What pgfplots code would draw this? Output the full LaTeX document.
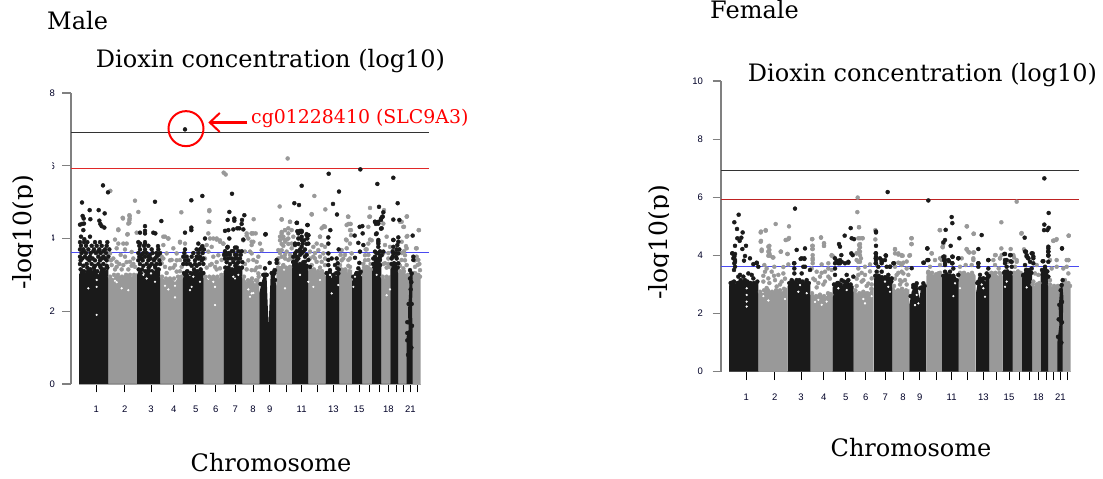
\documentclass[border=0pt]{standalone}
\usepackage{pgfplots}
\pgfplotsset{compat=1.18}
\usepackage{fontspec}
\setmainfont{Liberation Sans}
\newfontfamily\ser{DejaVu Serif}
\usetikzlibrary{arrows.meta}
\definecolor{blk}{HTML}{1A1A1A}
\definecolor{gry}{HTML}{999999}
\definecolor{spine}{HTML}{808080}
\definecolor{blueL}{HTML}{4A4AF0}
\definecolor{redL}{HTML}{E02828}
\pgfplotsset{
  man/.style={scale only axis, clip=false, xmin=213, xmax=1288, ymin=0,
    axis x line*=bottom, axis y line*=left,
    x axis line style={draw=none}, y axis line style={spine, line width=1.1pt, -},
    xtick={289,374,453,521,587,647,706,759,809,859,905,953,1000,1039,1077,1107,1137,1165,1188,1210,1231,1252},
    xticklabels={1,2,3,4,5,6,7,8,9,,11,,13,,15,,,18,,,21,},
    xtick style={draw=black, line width=0.6pt}, ytick style={draw=spine, line width=1.1pt},
    tick align=outside, major tick length=8.5pt,
    tick label style={font=\fontsize{9.5}{11}\selectfont, text=black!85!blue},
    xticklabel shift=10pt},
  bp/.style={only marks, mark=*, mark size=2pt, color=blk},
  gp/.style={only marks, mark=*, mark size=2pt, color=gry},
  hole/.style={only marks, mark=*, mark size=0.9pt, color=white},
}
\begin{document}
\begin{tikzpicture}[x=1pt,y=1pt]
\path (0,0) rectangle (1103,479);
\begin{axis}[man, at={(71pt,95pt)}, anchor=south west, width=358.33pt, height=291pt, ymax=8,
  ytick={0,2,4,6,8}, yticklabels={0,2,4,6,8}, yticklabel shift=4pt]
% grey columns
\addplot[fill=gry, draw=none] coordinates {(325,0)(325,3.0)(340,2.9)(352,3.05)(365,2.9)(380,3.05)(395,2.95)(411,3.05)(411,0)
(480,0)(480,3.0)(495,2.85)(510,2.95)(525,2.8)(540,3.0)(548,2.9)(548,0)
(611,0)(611,3.0)(625,2.85)(640,3.0)(655,2.9)(671,3.05)(671,0)
(727,0)(727,3.0)(740,2.8)(755,2.95)(765,2.75)(778,3.0)(778,0)
(829,0)(829,3.15)(840,3.25)(852,3.1)(865,3.25)(876,3.15)(876,0)
(925,0)(925,3.1)(940,3.2)(955,3.05)(968,3.15)(977,3.0)(977,0)
(1018,0)(1018,3.1)(1030,3.2)(1045,3.05)(1056,3.15)(1056,0)
(1086,0)(1086,3.15)(1100,3.25)(1116,3.1)(1116,0)
(1144,0)(1144,3.0)(1155,2.9)(1171,3.0)(1171,0)
(1195,0)(1195,3.05)(1208,3.15)(1220,3.0)(1240,3.0)(1240,0)
(1238,0)(1238,2.95)(1250,3.1)(1262,2.9)(1262,0)} \closedcycle;
\addplot[draw=spine!70, line width=0.8pt] coordinates {(237,0)(1262,0)};
% grey points
\addplot[gp] coordinates {(863,6.20)(671,5.81)(677,5.76)(331,5.31)(943,5.17)(405,5.04)(839,4.88)(976,4.80)(415,4.73)(544,4.72)(628,4.78)(935,4.66)(1110,4.84)(1108,4.60)(1044,4.60)(389,4.62)(389,4.55)(369,4.55)(388,4.43)(628,4.46)(761,4.53)(1221,4.61)(1200,4.46)(1210,4.32)(1257,4.23)(845,4.52)(870,4.46)(355,4.23)(382,4.11)(410,4.16)(540,3.89)(490,4.05)(505,4.0)(640,4.0)(650,3.97)(660,3.91)(670,3.86)(740,4.08)(755,4.14)(767,4.14)(845,4.18)(855,4.23)(865,4.14)(840,4.05)(850,4.0)(860,3.97)(960,4.05)(970,4.32)(975,4.32)(1045,4.40)(1052,4.40)(1050,4.23)(1040,3.95)(1050,3.86)(1110,3.97)(1220,4.05)(1250,3.73)(1218,3.79)
(368,4.57)(388,4.64)(388,4.5)(385,4.41)(355,4.25)(383,4.12)(345,3.97)(355,3.86)(370,3.86)(380,3.86)(350,3.73)(375,3.70)(330,3.59)(350,3.36)(375,3.50)(390,3.36)(335,3.27)(350,3.22)(370,3.27)(405,3.22)(395,3.63)(340,3.45)(400,3.45)(362,3.55)(345,3.15)(385,3.15)
(495,4.05)(505,4.0)(490,3.82)(540,3.91)(555,3.86)(520,3.73)(530,3.59)(500,3.59)(485,3.50)(515,3.41)(540,3.41)(495,3.22)(525,3.27)(510,3.18)(545,3.22)(485,3.32)(530,3.09)(500,3.05)
(625,4.14)(630,4.0)(650,4.0)(660,3.95)(670,3.86)(620,3.82)(635,3.77)(625,3.64)(640,3.50)(655,3.54)(615,3.45)(665,3.41)(630,3.27)(645,3.22)(660,3.18)(625,4.46)(628,4.75)
(740,4.14)(755,4.14)(730,3.95)(745,4.0)(755,3.82)(735,3.64)(750,3.64)(760,4.14)(755,3.91)(760,3.91)(780,3.86)(785,3.68)(755,3.59)(770,3.36)(760,3.41)(780,3.22)(755,3.13)(765,3.13)(775,3.04)
(845,4.53)(870,4.46)(845,4.14)(855,4.23)(865,4.28)(875,4.23)(850,4.05)(840,3.95)(865,4.0)(880,4.05)(855,3.91)(875,3.86)(835,3.68)(845,3.68)(860,3.64)(875,3.73)(845,3.5)(865,3.41)(850,3.27)(835,3.32)(870,3.22)(840,3.13)
(935,4.67)(972,4.34)(965,4.28)(960,4.05)(950,3.86)(965,3.82)(975,3.77)(940,3.77)(930,3.64)(955,3.68)(970,3.59)(940,3.5)(950,3.36)(965,3.36)(935,3.27)(975,3.27)
(1045,4.6)(1040,4.37)(1050,4.40)(1053,4.23)(1038,3.97)(1053,4.09)(1025,3.68)(1040,3.73)(1055,3.59)(1030,3.45)(1045,3.41)(1020,3.27)(1050,3.22)(1035,3.13)
(1110,4.6)(1105,4.32)(1097,3.70)(1095,3.54)(1105,3.41)(1100,3.22)(1105,3.86)(1115,3.95)(1090,3.3)
(1160,4.05)(1155,3.82)(1170,3.77)(1150,3.59)(1165,3.45)(1155,3.32)(1168,3.22)(1150,4.41)(1152,4.78)
(1220,4.6)(1205,4.46)(1212,4.32)(1222,4.07)(1205,3.91)(1220,3.73)(1215,3.54)(1205,3.41)(1220,3.27)(1210,3.18)
(1256,4.23)(1248,3.73)(1255,3.41)(1245,3.22)(1260,3.13)(1253,3.27)
(330,2.95)(342,3)(354,3)(366,2.95)(378,3)(390,3)(402,3)(486,2.95)(498,2.9)(510,2.9)(522,2.9)(534,2.95)(544,2.95)(616,2.95)(628,2.95)(640,2.95)(652,2.95)(664,3)(732,2.95)(744,2.85)(756,2.9)(768,2.85)(776,2.95)(834,3.2)(846,3.2)(858,3.2)(870,3.2)(930,3.15)(942,3.15)(954,3.1)(966,3.1)(1024,3.15)(1036,3.15)(1048,3.1)(1092,3.2)(1104,3.2)(1112,3.15)(1148,2.95)(1160,2.95)(1200,3.1)(1212,3.1)(1224,3.0)(1243,3.05)(1255,3)(1260,2.95)
(835,3.45)(855,3.45)(870,3.45)(840,3.6)(855,3.55)(870,3.55)(880,3.45)(850,3.8)(865,3.85)(845,3.85)(930,3.45)(945,3.45)(960,3.5)(975,3.45)(945,3.6)(960,3.2)(1025,3.4)(1035,3.55)(1050,3.45)(1022,3.55)(1045,3.25)(1095,3.4)(1105,3.55)(1112,3.3)(1100,3.7)(1150,3.3)(1160,3.2)(1165,3.6)(1165,3.3)(1200,3.25)(1215,3.4)(1212,3.65)(1205,3.6)(1245,3.4)(1258,3.3)(1250,3.5)(333,3.4)(358,3.3)(380,3.35)(395,3.25)(365,3.15)(400,3.3)(490,3.45)(510,3.4)(530,3.4)(520,3.2)(540,3.1)(620,3.2)(650,3.35)(650,3.15)(635,3.3)(735,3.3)(745,3.4)(770,3.2)(740,3.15)(775,3.5)};
% black columns
\addplot[fill=blk, draw=none] coordinates {(237,0)(237,3.0)(245,3.2)(255,3.05)(265,3.25)(275,3.1)(285,3.2)(295,3.0)(305,3.25)(315,3.1)(325,3.2)(325,0)
(411,0)(411,3.0)(420,3.2)(432,3.0)(445,3.25)(458,3.05)(470,3.2)(480,3.1)(480,0)
(548,0)(548,3.0)(558,3.15)(570,2.95)(582,3.2)(595,3.05)(605,3.2)(611,3.0)(611,0)
(671,0)(671,3.1)(683,3.25)(695,3.1)(708,3.3)(718,3.15)(727,3.25)(727,0)
(778,0)(778,2.5)(785,2.8)(795,3.1)(800,2.9)(803,2.2)(806,1.6)(809,2.3)(812,3.0)(820,3.2)(825,2.9)(829,2.7)(829,0)
(876,0)(876,3.3)(888,3.45)(898,3.25)(910,3.4)(925,3.2)(925,0)
(977,0)(977,2.95)(985,3.15)(995,2.9)(1003,3.1)(1008,2.95)(1018,3.2)(1018,0)
(1056,0)(1056,2.8)(1063,3.05)(1075,3.1)(1086,2.95)(1086,0)
(1116,0)(1116,3.2)(1125,3.45)(1135,3.5)(1144,3.3)(1144,0)
(1171,0)(1171,3.2)(1180,3.35)(1190,3.35)(1195,3.1)(1195,0)
(1220,0)(1220,1.3)(1226,1.5)(1224,2.0)(1228,2.6)(1228,3.1)(1238,3.0)(1236,2.0)(1238,1.5)(1238,0)} \closedcycle;
% black points
\addplot[bp] coordinates {(555,7.00)(309,5.46)(324,5.27)(246,4.99)(269,4.78)(296,4.78)(314,4.69)(248,4.62)(251,4.55)(271,4.53)(246,4.40)(240,4.38)(252,4.41)(298,4.49)(301,4.40)(305,4.34)(313,4.30)(250,4.23)(243,4.05)(253,3.98)(270,4.05)
(465,5.01)(484,4.48)(435,4.34)(435,4.21)(420,4.16)(435,4.14)(460,4.16)(466,4.14)(474,3.79)(420,3.86)(435,3.86)
(574,5.05)(607,5.17)(555,4.16)(574,4.30)(574,4.23)(595,3.86)(615,4.00)(607,3.79)
(696,5.23)(688,4.73)(733,4.64)(683,4.51)(703,4.55)(703,4.49)(726,4.51)(685,4.23)(675,4.21)(688,4.00)(712,4.28)(725,4.40)(730,4.25)(730,3.97)(683,3.77)(700,4.25)(718,4.28)
(796,4.11)
(905,5.45)(883,4.97)(897,4.92)(891,4.43)(922,4.37)(900,4.18)(905,4.21)(920,4.09)(925,4.09)(905,4.05)(885,3.86)(892,4.2)(912,3.95)(920,3.85)
(986,5.78)(1017,5.29)(999,4.95)(1011,4.66)(991,4.23)(985,4.03)(985,3.86)(1016,3.7)
(1081,5.90)(1087,4.34)(1079,4.32)(1064,4.08)(1088,4.14)(1075,3.88)(1090,3.82)
(1132,5.50)(1180,5.67)(1193,4.97)(1137,4.87)(1150,4.72)(1147,4.6)(1143,4.51)(1125,4.46)(1135,4.41)(1143,4.27)(1180,4.52)(1198,4.51)(1195,4.03)(1180,3.96)(1238,4.08)(1130,4.14)(1135,3.91)(1192,3.82)
% chr1
(240,3.9)(252,3.9)(262,3.9)(285,3.9)(300,3.9)(322,3.9)(243,3.8)(258,3.8)(275,3.8)(290,3.8)(305,3.8)(320,3.8)(240,3.7)(250,3.7)(265,3.7)(282,3.7)(298,3.7)(315,3.7)(328,3.7)(245,3.6)(258,3.6)(272,3.6)(288,3.6)(302,3.6)(318,3.6)(240,3.5)(255,3.5)(270,3.5)(295,3.5)(310,3.5)(325,3.5)(242,3.4)(268,3.4)(285,3.4)(300,3.4)(320,3.4)(240,3.3)(260,3.3)(275,3.3)(295,3.3)(310,3.3)
(247,3.45)(262,3.45)(278,3.45)(305,3.45)(315,3.45)(250,3.25)(285,3.25)(300,3.25)(320,3.25)(252,3.65)(280,3.65)(295,3.65)(310,3.65)
(242,3.15)(252,3.1)(262,3.2)(272,3.15)(282,3.2)(292,3.1)(302,3.2)(312,3.15)(322,3.2)
% chr3
(415,3.9)(435,3.9)(418,3.8)(432,3.8)(445,3.8)(420,3.7)(435,3.7)(455,3.7)(475,3.7)(415,3.6)(430,3.6)(440,3.6)(458,3.6)(470,3.6)(480,3.6)(418,3.5)(435,3.5)(445,3.5)(470,3.5)(415,3.4)(428,3.4)(445,3.4)(462,3.4)(478,3.4)(420,3.3)(440,3.3)(455,3.3)(470,3.3)(480,3.3)
(425,3.45)(452,3.45)(465,3.45)(425,3.55)(450,3.55)(475,3.55)(430,3.25)(450,3.25)(465,3.25)
(416,3.15)(426,3.15)(436,3.1)(446,3.2)(456,3.1)(466,3.2)(476,3.15)
% chr5
(605,3.75)(555,3.7)(590,3.7)(600,3.7)(612,3.7)(553,3.6)(580,3.6)(595,3.6)(608,3.6)(550,3.5)(575,3.5)(590,3.5)(600,3.5)(555,3.4)(565,3.4)(585,3.4)(605,3.4)(550,3.3)(570,3.3)(585,3.3)(598,3.3)(610,3.3)
(560,3.3)(560,3.5)(595,3.45)(610,3.45)(575,3.25)(590,3.25)
(552,3.05)(562,3.1)(572,3.05)(582,3.15)(592,3.1)(602,3.15)(610,3.05)
% chr7
(682,3.75)(705,3.75)(710,3.75)(675,3.65)(700,3.65)(715,3.65)(725,3.65)(672,3.55)(690,3.55)(710,3.55)(722,3.55)(675,3.45)(695,3.45)(705,3.45)(720,3.45)(680,3.35)(700,3.35)(715,3.35)(727,3.35)
(685,3.45)(685,3.6)(695,3.65)(712,3.45)(705,3.55)(680,3.55)(690,3.3)(710,3.3)
(676,3.2)(686,3.2)(696,3.15)(706,3.25)(716,3.2)(726,3.2)
% chr9
(809,3.33)(830,3.41)(830,3.33)(795,3.18)(825,3.13)(820,3.0)(825,2.86)(797,4.12)(800,3.0)
(782,2.75)(790,3)(798,3)(815,3.05)(823,3.05)
% chr11
(890,4.43)(923,4.37)(900,4.21)(895,4.14)(905,4.18)(920,4.12)(925,4.09)(922,4.0)(895,4.0)(905,3.96)(885,3.82)(908,3.86)(905,3.77)(925,3.86)(910,3.64)(905,3.59)(885,3.59)(880,3.5)(895,3.45)(925,3.41)(915,3.36)(880,3.36)(930,3.22)
(890,3.5)(900,3.55)(915,3.5)(920,3.55)(890,3.65)(900,3.7)(915,3.7)(895,3.85)(900,3.65)
(880,3.35)(890,3.4)(900,3.3)(910,3.35)(920,3.25)
% chr13
(985,3.59)(1010,3.45)(995,3.45)(985,3.41)(1013,3.32)(1005,3.27)(985,3.27)(1012,3.18)(990,3.13)(1015,3.04)
(980,3.05)(990,3.05)(1000,3)(1010,3.05)(1016,3.15)
% chr15
(1080,3.64)(1065,3.47)(1078,3.33)(1075,3.18)(1082,3.09)(1070,3.04)
(1060,2.95)(1070,3.05)(1080,3.05)
% chr17
(1125,4.46)(1135,4.46)(1128,4.4)(1143,4.55)(1148,4.6)(1145,4.28)(1128,4.12)(1135,3.96)(1135,3.86)(1135,3.77)(1150,3.64)(1125,3.64)(1135,3.59)(1145,3.54)(1120,3.45)(1130,3.41)(1140,3.41)(1128,3.27)(1140,3.27)
(1125,3.5)(1140,3.5)(1130,3.6)(1140,3.65)(1122,3.3)(1135,3.3)
(1120,3.3)(1128,3.4)(1138,3.45)
% chr19
(1180,3.96)(1195,3.91)(1180,3.77)(1198,3.70)(1180,3.59)(1195,3.59)(1175,3.45)(1190,3.45)(1182,3.32)(1195,3.32)(1188,3.18)
(1178,3.5)(1188,3.5)(1188,3.6)(1178,3.65)(1190,3.7)
(1175,3.3)(1185,3.3)(1193,3.2)
% chr21
(1240,3.5)(1240,3.41)(1230,3.13)(1235,3.04)
(1222,1.4)(1222,1.2)(1222,1.7)(1226,2.2)(1232,2.6)(1230,2.9)(1234,2.8)(1235,2.2)(1236,1.6)(1224,0.8)(1234,1.0)};
% gaps inside the columns
\addplot[hole] coordinates {(345,2.84)(365,2.63)(385,2.58)(350,2.8)(440,2.9)(465,2.81)(453,3.04)(430,3.0)(570,2.58)(575,2.67)(580,2.95)(600,2.81)(525,2.38)(495,2.7)(505,2.6)(525,2.7)(645,2.17)(645,2.67)(640,2.81)(715,3.0)(700,2.95)(705,2.9)(745,2.6)(760,2.5)(750,2.4)(290,2.86)(290,2.67)(265,2.63)(290,1.9)(755,2.49)(855,2.63)(900,3.0)(925,2.81)(990,3.0)(1015,2.72)(995,2.49)(1060,2.67)(1065,2.95)(1160,2.44)(1170,2.6)(940,2.67)(960,2.86)(1130,3.0)};
\addplot[draw=black!80, line width=0.8pt] coordinates {(213,6.93)(1288,6.93)};
\addplot[draw=redL, line width=0.8pt] coordinates {(213,5.92)(1288,5.92)};
\addplot[draw=blueL, line width=0.9pt] coordinates {(213,3.61)(1288,3.61)};
\draw[red, line width=2pt] (axis cs:558,7.02) circle[radius=17.5pt];
\draw[red, line width=2.2pt, -{Straight Barb[length=10pt,width=19pt,line width=2pt]}] (axis cs:742,7.19) -- (axis cs:625,7.19);
\end{axis}

\begin{axis}[man, at={(721pt,107.3pt)}, anchor=south west, width=358.33pt, height=290.7pt, ymax=10,
  ytick={0,2,4,6,8,10}, yticklabels={0,2,4,6,8,10}, yticklabel shift=6pt]
\addplot[fill=gry, draw=none] coordinates {(325,0)(325,2.8)(340,2.7)(352,2.85)(365,2.7)(380,2.85)(395,2.75)(411,2.9)(411,0)
(480,0)(480,2.75)(495,2.6)(510,2.7)(525,2.55)(540,2.75)(548,2.7)(548,0)
(611,0)(611,2.85)(625,2.65)(640,2.8)(655,2.7)(671,2.9)(671,0)
(727,0)(727,3.0)(740,2.75)(755,2.9)(765,2.75)(778,2.85)(778,0)
(829,0)(829,3.3)(840,3.45)(852,3.25)(865,3.45)(876,3.35)(876,0)
(925,0)(925,3.3)(940,3.45)(955,3.3)(968,3.45)(977,3.3)(977,0)
(1018,0)(1018,3.35)(1030,3.45)(1045,3.3)(1056,3.45)(1056,0)
(1086,0)(1086,3.35)(1100,3.5)(1116,3.35)(1116,0)
(1144,0)(1144,3.0)(1155,2.95)(1171,3.1)(1171,0)
(1195,0)(1195,3.05)(1208,2.9)(1220,3.0)(1240,3.0)(1240,0)
(1238,0)(1238,3.0)(1250,3.1)(1262,2.95)(1262,0)} \closedcycle;
\addplot[draw=spine!70, line width=0.8pt] coordinates {(237,0)(1262,0)};
\addplot[gp] coordinates {(623,5.99)(622,5.49)(627,4.97)(1100,5.85)(1054,5.14)(951,5.00)(971,4.75)(869,4.87)(377,5.08)(417,5.00)(347,4.85)(332,4.79)(676,4.87)(676,4.55)(1114,4.75)(1256,4.68)(1220,4.56)(1210,4.51)(513,4.61)(486,4.56)(488,4.33)(488,4.22)(488,4.01)(488,3.84)(784,4.59)(784,4.39)(407,4.53)(415,4.56)(332,4.47)(358,4.33)(358,4.19)(358,4.07)(335,4.15)(355,3.99)(368,3.93)(522,4.41)(522,4.33)(630,4.59)(638,4.59)(630,4.39)(630,4.28)(630,4.13)(620,4.07)(630,4.01)(620,3.84)(630,3.78)(392,4.13)(412,4.05)(735,4.2)(735,4.07)(755,4.01)(745,4.07)(780,4.01)(745,3.75)(760,3.75)(845,4.07)(878,4.28)(880,4.4)(870,3.9)(875,3.84)(885,3.96)(950,4.2)(955,4.13)(970,4.1)(970,3.84)(1082,4.22)(1075,3.78)(1035,4.01)(1050,3.9)(1055,4.01)(1065,3.78)(1092,3.93)(1100,3.84)(1250,3.84)(1255,3.84)(545,4.01)(550,3.96)
(333,4.82)(347,4.87)(333,4.5)(335,4.2)(355,4.3)(355,4.13)(360,3.99)(370,3.93)(393,4.13)(413,4.05)(408,4.53)(417,4.6)(343,3.67)(373,3.61)(415,3.69)(345,3.44)(365,3.44)(385,3.33)(400,3.38)(355,3.21)(375,3.15)(340,3.1)(395,3.1)(350,2.88)(380,2.93)
(487,4.56)(487,4.33)(487,4.22)(513,4.62)(522,4.42)(522,4.33)(545,3.99)(488,3.9)(488,3.73)(515,3.69)(535,3.73)(500,3.44)(525,3.44)(485,3.55)(545,3.5)(510,3.27)(535,3.27)(495,3.15)(525,3.1)
(627,4.97)(625,4.59)(637,4.59)(627,4.36)(627,4.19)(620,4.07)(633,3.9)(625,3.78)(660,3.69)(645,3.61)(625,3.55)(645,3.33)(625,3.33)(665,3.21)(655,3.03)(635,3.1)
(735,4.22)(745,4.03)(755,3.99)(750,3.73)(735,3.61)(755,3.44)(740,3.33)(750,3.15)(758,3.99)(778,3.99)(755,3.67)(770,3.79)(760,3.38)(775,3.33)(765,3.15)(755,3.1)
(870,4.87)(785,4.59)(785,4.39)(845,4.07)(878,4.3)(840,3.61)(855,3.84)(870,3.67)(835,3.44)(850,3.27)(865,3.38)(840,3.1)
(950,5.0)(971,4.74)(950,4.22)(958,4.1)(972,4.1)(970,3.9)(935,3.9)(947,3.67)(965,3.67)(940,3.38)(955,3.33)(930,3.61)
(1054,4.24)(1037,4.01)(1050,3.9)(1030,3.84)(1035,3.67)(1046,3.55)
(1115,4.77)(1122,4.21)(1090,4.01)(1100,3.78)(1095,3.61)
(1160,3.67)(1155,3.38)(1165,3.33)(1150,3.1)
(1218,4.53)(1210,4.5)(1200,3.84)(1220,3.84)(1220,3.61)(1205,3.55)(1200,3.15)(1205,2.7)
(1256,4.68)(1255,3.84)(1250,3.61)(1240,3.55)(1255,3.38)(1245,3.15)
(330,2.75)(342,2.8)(354,2.8)(366,2.75)(378,2.8)(390,2.8)(402,2.85)(486,2.7)(498,2.6)(510,2.65)(522,2.6)(534,2.7)(544,2.65)(616,2.8)(628,2.7)(640,2.75)(652,2.7)(664,2.85)(732,2.95)(744,2.8)(756,2.85)(768,2.8)(834,3.4)(846,3.4)(858,3.35)(870,3.4)(930,3.4)(942,3.4)(954,3.35)(966,3.4)(1024,3.4)(1036,3.4)(1048,3.4)(1092,3.4)(1104,3.45)(1112,3.4)(1148,3)(1160,3)(1168,3.05)(1200,3)(1212,2.95)(1224,2.95)(1243,3.05)(1255,3.05)(1260,2.95)
(340,3.3)(358,3.05)(372,3.3)(390,3.0)(405,3.2)(350,3.55)(400,3.6)(490,3.2)(505,3.05)(520,3.0)(540,3.2)(515,3.4)(535,3.55)(500,2.9)(620,3.2)(640,3.15)(650,2.95)(665,3.0)(635,3.4)(660,3.45)(620,2.95)(735,3.2)(750,3.0)(770,3.0)(745,3.4)(770,3.55)};
\addplot[fill=blk, draw=none] coordinates {(237,0)(237,2.95)(245,3.15)(258,3.0)(270,3.2)(282,3.05)(295,3.15)(310,3.0)(325,3.15)(325,0)
(413,0)(413,2.95)(425,3.15)(438,3.0)(450,3.2)(465,3.05)(481,3.1)(481,0)
(548,0)(548,2.9)(560,3.1)(575,2.95)(590,3.15)(600,3.0)(611,2.95)(611,0)
(672,0)(672,3.2)(685,3.35)(698,3.2)(710,3.3)(727,3.1)(727,0)
(778,0)(778,2.3)(785,2.75)(795,3.0)(803,2.9)(808,2.5)(812,2.8)(820,3.05)(828,2.9)(828,0)
(876,0)(876,3.25)(888,3.4)(900,3.25)(912,3.35)(926,3.1)(926,0)
(978,0)(978,2.7)(985,3.2)(995,3.25)(1005,3.1)(1018,3.3)(1018,0)
(1058,0)(1058,3.3)(1068,3.5)(1078,3.45)(1088,3.3)(1088,0)
(1116,0)(1116,3.2)(1125,3.5)(1135,3.55)(1146,3.4)(1146,0)
(1172,0)(1172,3.4)(1182,3.6)(1190,3.55)(1195,3.3)(1195,0)
(1222,0)(1222,1.0)(1228,1.6)(1226,2.2)(1230,2.8)(1236,3.1)(1240,2.6)(1238,1.5)(1238,0)} \closedcycle;
\addplot[bp] coordinates {(266,5.40)(253,5.14)(261,4.91)(278,4.79)(274,4.61)(262,4.59)(269,4.50)(277,4.22)(288,4.33)(255,4.33)(247,4.07)(255,4.05)(285,3.98)(300,3.90)(282,3.82)(250,3.9)(255,3.78)
(435,5.61)(440,4.19)(465,4.24)(452,3.88)(463,3.88)(432,3.73)(320,3.75)(310,3.7)
(602,4.94)(584,4.68)(605,4.59)(612,4.56)(567,4.39)(570,4.30)(574,4.01)(604,4.07)(608,4.01)(560,3.82)(575,3.78)(595,3.75)(565,3.73)
(678,4.79)(678,4.82)(678,4.33)(678,4.07)(678,3.96)(678,3.84)(678,3.73)(708,3.99)(705,3.84)(695,3.84)(695,3.73)(732,3.73)(720,3.61)
(713,6.18)(835,5.89)(832,4.24)(822,3.75)(835,3.84)
(905,5.32)(907,5.11)(887,4.88)(885,4.53)(880,4.45)(928,4.59)(995,4.70)(902,4.33)(985,4.22)(907,3.96)(925,3.9)(895,3.84)(882,3.96)(882,3.84)(907,3.73)(885,3.73)(985,3.73)(1015,3.84)
(1063,4.05)(1080,4.01)(1070,3.84)(1085,3.78)(1065,3.73)
(1124,4.61)(1125,4.13)(1130,4.01)(1148,4.07)(1135,3.9)(1150,3.96)(1140,3.78)
(1183,6.65)(1196,5.46)(1183,5.06)(1196,4.95)(1192,4.87)(1182,4.87)(1195,4.24)(1195,4.13)(1195,3.99)(1178,3.80)(1236,4.24)
(247,4.07)(253,3.96)(255,3.84)(253,3.73)(255,3.61)(252,3.5)(270,3.33)(280,3.27)(295,3.38)(305,3.33)(320,3.73)(325,3.61)(310,3.21)(285,3.15)(265,3.27)
(433,3.73)(433,3.55)(433,3.38)(455,3.9)(463,3.9)(460,3.61)(465,3.61)(480,3.5)(455,3.38)(425,3.15)(440,3.15)(470,3.15)(430,3.05)
(555,3.9)(555,3.73)(570,3.84)(570,3.73)(555,3.55)(555,3.33)(585,3.73)(595,3.78)(590,3.33)(610,3.27)(575,3.15)(595,3.15)(565,3.05)
(677,4.07)(677,3.9)(690,3.9)(707,4.0)(677,3.73)(695,3.78)(685,3.61)(710,3.61)(730,3.73)(720,3.61)(680,3.44)(695,3.44)(715,3.33)(725,3.21)(705,3.15)
(785,3.56)(820,3.75)(832,3.84)(832,4.24)(800,3.04)(820,3.04)(790,2.98)(810,2.87)
(880,3.95)(885,3.84)(885,3.67)(908,3.95)(897,3.8)(925,3.9)(907,3.73)(885,3.44)(900,3.44)(910,3.55)(925,3.33)(895,3.27)(915,3.15)
(985,3.73)(985,3.61)(1015,3.84)(1015,3.55)(1010,3.38)(990,3.33)(1000,3.21)(1015,3.27)(985,3.1)
(1065,4.05)(1082,4.01)(1065,3.84)(1082,3.8)(1070,3.61)(1085,3.61)(1065,3.44)(1080,3.38)(1075,3.15)
(1128,4.13)(1130,3.96)(1145,4.07)(1150,3.9)(1135,3.9)(1125,3.67)(1150,3.73)(1130,3.5)(1145,3.55)(1120,3.33)(1140,3.33)
(1195,4.3)(1195,4.13)(1195,4.01)(1180,3.8)(1195,3.78)(1185,3.61)(1190,3.44)(1178,3.33)(1195,3.27)
(1236,4.24)(1238,3.15)(1235,2.98)
(242,3.05)(252,3.1)(262,3.05)(272,3.15)(282,3.1)(292,3.1)(302,3.05)(312,3.05)(322,3.1)(418,3.05)(428,3.1)(438,3.05)(448,3.15)(458,3.1)(468,3.05)(476,3.05)(552,3)(562,3.05)(572,3)(582,3.1)(592,3.1)(602,3)(676,3.3)(686,3.3)(696,3.25)(706,3.25)(716,3.2)(724,3.1)(782,2.6)(790,2.9)(798,2.95)(815,2.9)(824,2.95)(880,3.3)(890,3.35)(900,3.3)(910,3.3)(920,3.15)(982,3.05)(990,3.2)(1000,3.2)(1010,3.2)(1016,3.3)(1062,3.4)(1072,3.45)(1082,3.4)(1120,3.3)(1128,3.5)(1138,3.5)(1144,3.4)(1176,3.5)(1185,3.55)(1192,3.45)(1224,1.2)(1226,1.8)(1228,2.3)(1232,2.8)(1236,2.4)(1236,1.7)(1234,1.0)};
\addplot[hole] coordinates {(290,2.87)(290,2.64)(290,2.41)(290,2.24)(445,2.75)(450,2.98)(470,2.7)(590,2.81)(565,2.87)(715,2.92)(705,3.1)(720,2.75)(340,2.6)(355,2.45)(405,2.5)(495,2.4)(505,2.47)(530,2.41)(515,2.3)(645,2.35)(640,2.5)(665,2.6)(795,2.29)(800,2.64)(805,2.35)(1000,2.87)(1005,2.58)(995,3.0)(1065,2.92)(1070,3.1)(1130,2.9)(915,3.04)(930,2.87)(910,2.6)};
\addplot[draw=black!80, line width=0.8pt] coordinates {(213,6.94)(1288,6.94)};
\addplot[draw=redL!85!black, line width=0.8pt] coordinates {(213,5.93)(1288,5.93)};
\addplot[draw=blueL, line width=0.9pt] coordinates {(213,3.61)(1288,3.61)};
\end{axis}

% texts
\fill[white] (33pt,229pt) rectangle (51.6pt,319pt);
\begin{scope}
\clip (0pt,150pt) rectangle (32.5pt,320pt);
\node[font=\ser\fontsize{25}{27}\selectfont, rotate=90, anchor=base west, inner sep=0pt] at (32pt,189pt) {-log10(p)};
\end{scope}
\begin{scope}
\clip (620pt,150pt) rectangle (668pt,320pt);
\node[font=\ser\fontsize{25}{27}\selectfont, rotate=90, anchor=base west, inner sep=0pt] at (667pt,179pt) {-log10(p)};
\end{scope}
\node[font=\ser\fontsize{24}{26}\selectfont, anchor=west, inner sep=0pt] at (47pt,458pt) {Male};
\node[font=\ser\fontsize{24}{26}\selectfont, anchor=center, inner sep=0pt] at (270.5pt,418pt) {Dioxin concentration (log10)};
\node[font=\ser\fontsize{24}{26}\selectfont, anchor=center, inner sep=0pt] at (271pt,16pt) {Chromosome};
\node[font=\ser\fontsize{24}{26}\selectfont, anchor=west, inner sep=0pt] at (710pt,469pt) {Female};
\node[font=\ser\fontsize{24}{26}\selectfont, anchor=center, inner sep=0pt] at (922.5pt,404pt) {Dioxin concentration (log10)};
\node[font=\ser\fontsize{24}{26}\selectfont, anchor=center, inner sep=0pt] at (911pt,31pt) {Chromosome};
\node[font=\ser\fontsize{18.9}{22}\selectfont, text=red, anchor=west, inner sep=0pt] at (251pt,361pt) {cg01228410 (SLC9A3)};
\end{tikzpicture}
\end{document}
